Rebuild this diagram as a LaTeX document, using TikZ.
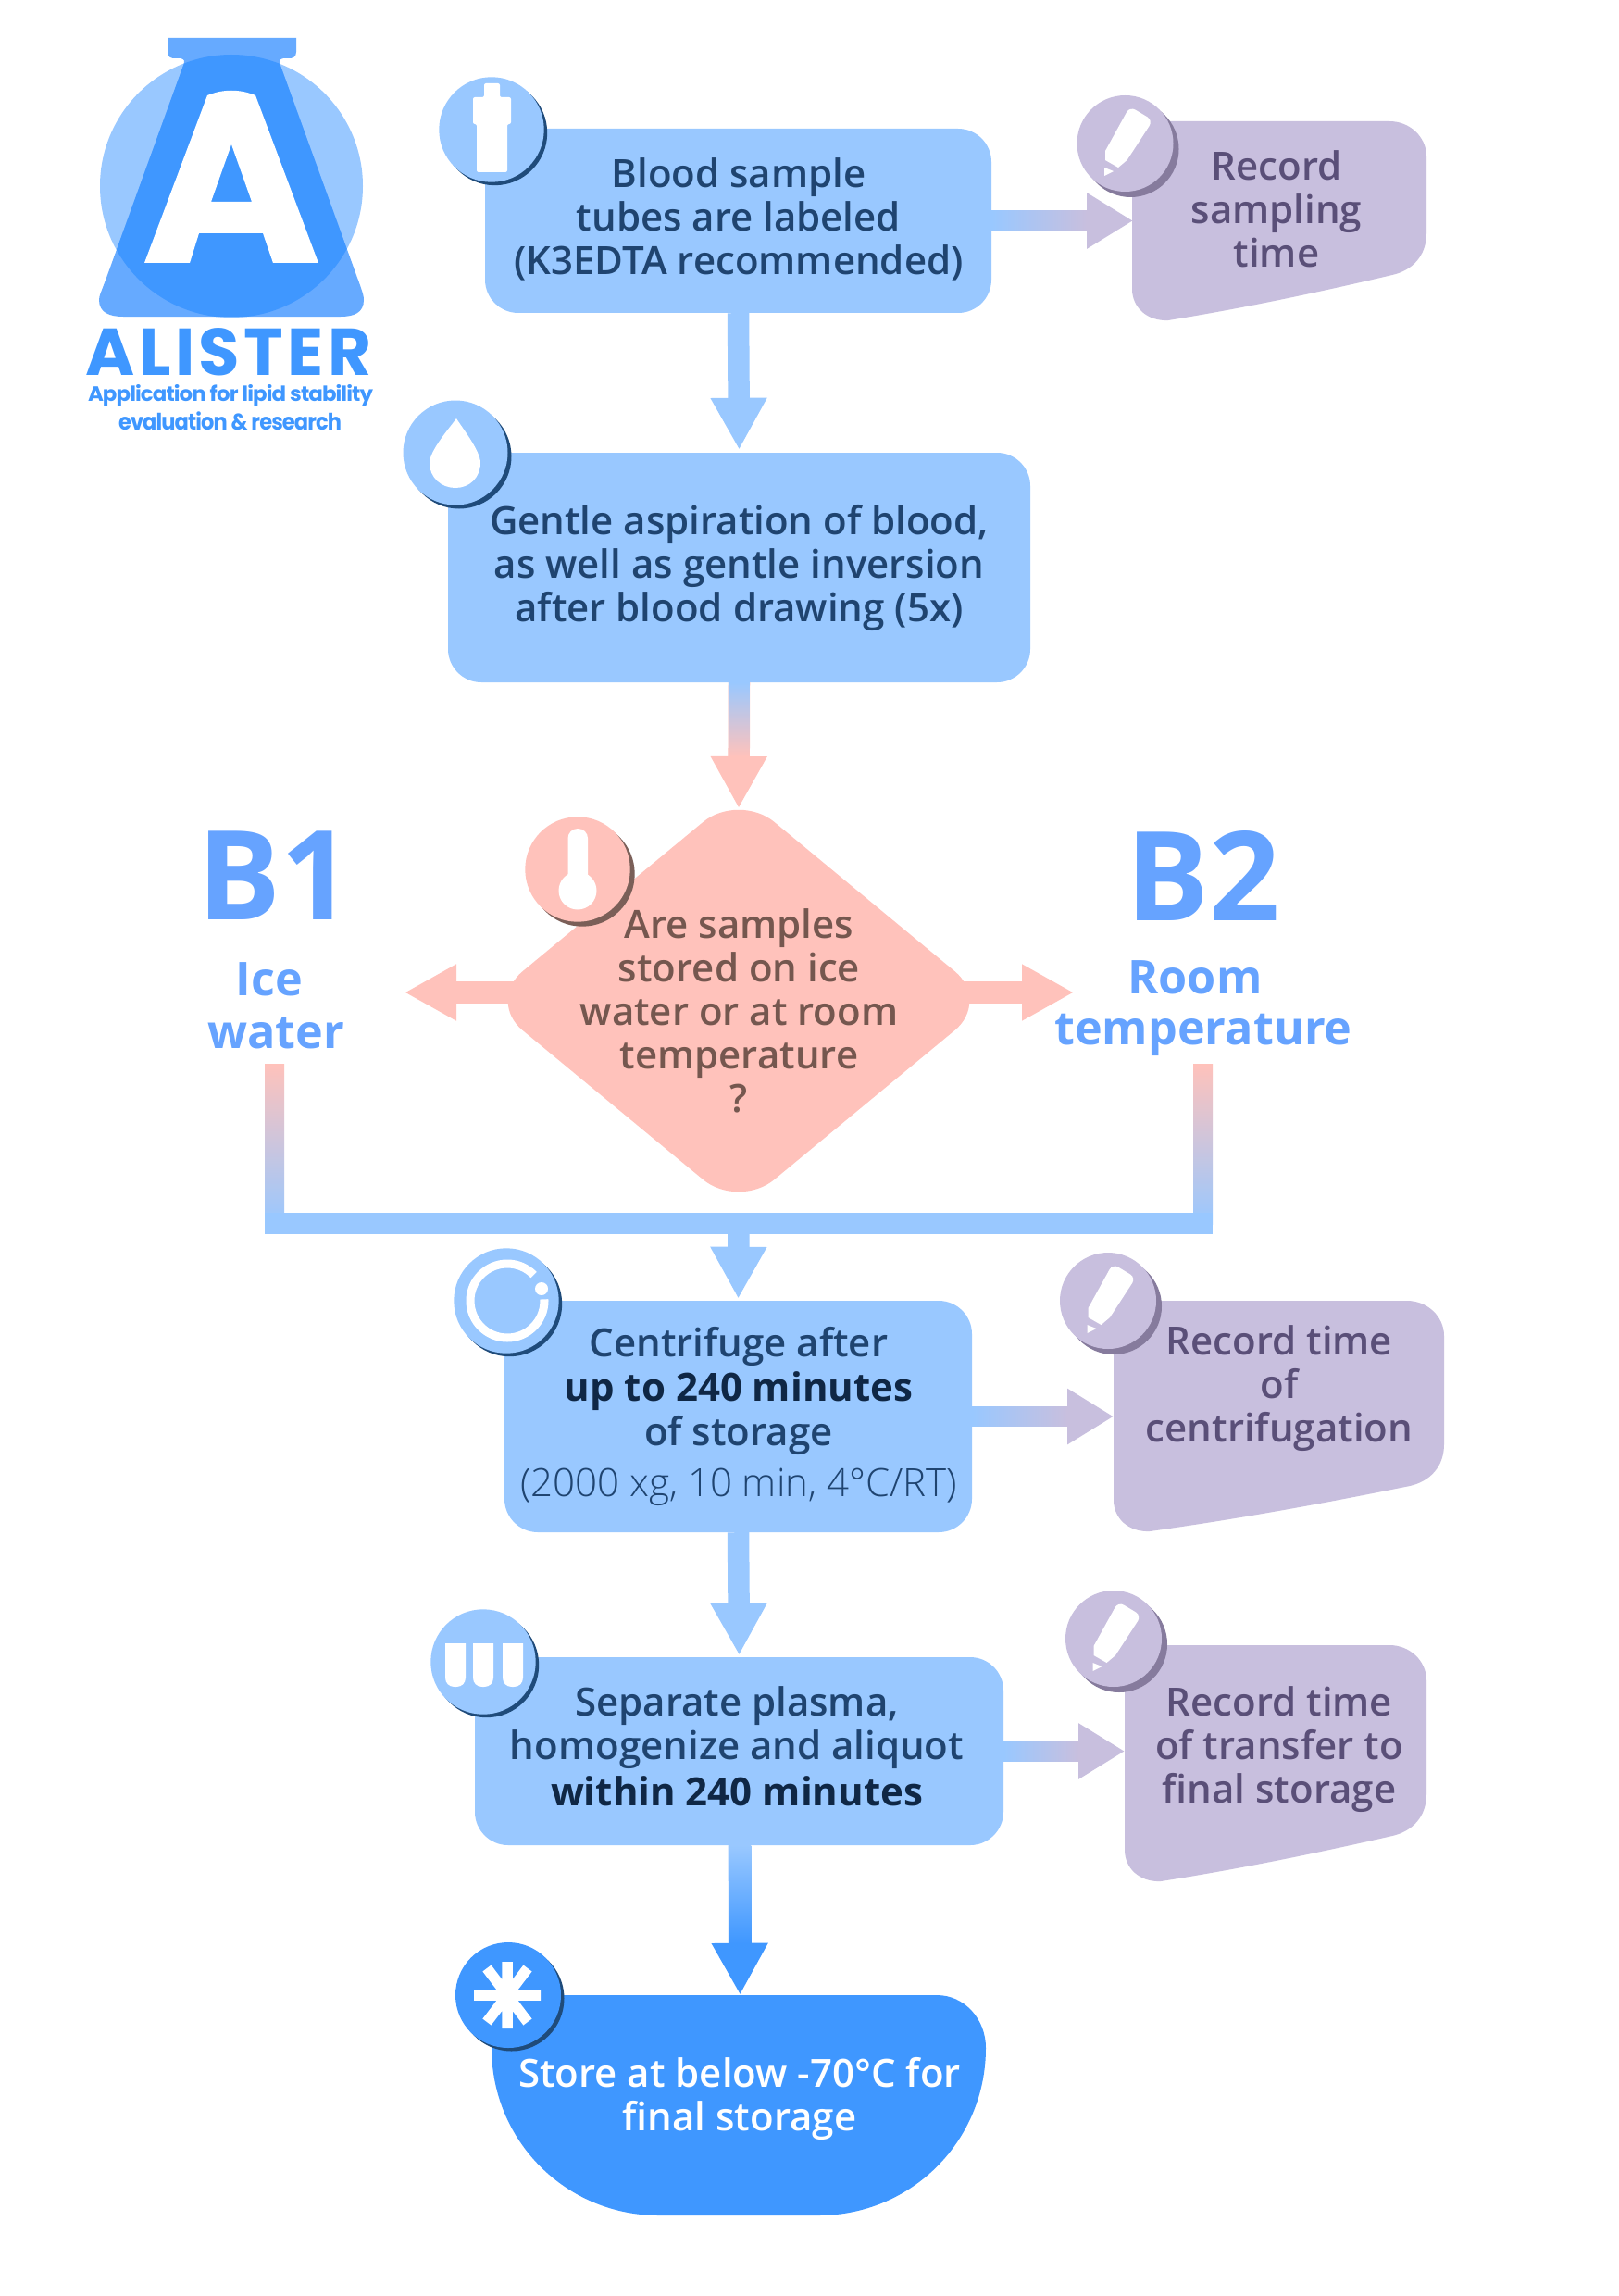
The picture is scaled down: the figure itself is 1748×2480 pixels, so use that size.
\documentclass[tikz,border=0pt]{standalone}
\usepackage{fontspec}
\usepackage{graphicx}
\setmainfont{Open Sans}
\newfontfamily\bodyfont{Open Sans Semibold}
\newfontfamily\lightfont{Open Sans Light}
\newfontfamily\strongfont{Open Sans}
\newfontfamily\logofont{Poppins}
\usetikzlibrary{arrows.meta,calc,shapes.geometric}
\definecolor{lblue}{HTML}{99C8FF}
\definecolor{dblue}{HTML}{3F97FF}
\definecolor{mblue}{HTML}{66AAFF}
\definecolor{tblue}{HTML}{66A3FF}
\definecolor{purp}{HTML}{C8BFDE}
\definecolor{purpsh}{HTML}{867B9D}
\definecolor{pink}{HTML}{FFC2BB}
\definecolor{pinksh}{HTML}{7B5F58}
\definecolor{bluesh}{HTML}{1F4B7A}
\definecolor{txtblue}{HTML}{1F4470}
\definecolor{txtbold}{HTML}{0F2745}
\definecolor{txtpurp}{HTML}{5A4F78}
\definecolor{txtpink}{HTML}{75574F}
\tikzset{
  x=1pt,y=-1pt,
  flowbox/.style={rectangle,fill=lblue,rounded corners=36pt,inner sep=0pt},
  bodytext/.style={align=center,inner sep=0pt,font=\bodyfont\fontsize{42}{47}\selectfont},
  boxtext/.style={bodytext,text=txtblue},
  rectext/.style={bodytext,text=txtpurp},
  diatext/.style={bodytext,text=txtpink},
  headtext/.style={align=center,inner sep=0pt,text=tblue,font=\bfseries\fontsize{50.3}{52}\selectfont},
  bigtext/.style={inner sep=0pt,text=tblue,font=\bfseries\fontsize{134}{136}\selectfont},
  conn/.style={line width=23.5pt,-{Triangle[length=56pt,width=57pt]}},
  hconn/.style={line width=21pt,-{Triangle[length=50pt,width=57pt]}},
  whitebit/.style={fill=white,draw=none},
}
\newcommand\iconbase[6]{%
  \fill[#5] (#1+#6,#2+#6) circle (#3);
  \fill[#4] (#1,#2) circle (#3);
}
\newcommand\pencilicon[2]{%
  \begin{scope}[shift={(#1,#2)}]
    \fill[purpsh] (6,6) circle (52);
    \fill[purp] (0,0) circle (52);
    \path[whitebit] (-21.5,18) -- (-21.5,8) [rounded corners=7pt] -- (5,-40) -- (30,-25) [sharp corners] -- (2,18) -- (-7.5,26) -- cycle;
    \path[whitebit] (-22.5,26) -- (-22.5,35) -- (-12.5,30) -- cycle;
  \end{scope}%
}
\newcommand\recshape[4]{%
  \fill[purp] ({#1+40},#2) -- ({#3-40},#2) .. controls ({#3-18},#2) and (#3,{#2+17}) .. (#3,{#2+38})
   -- (#3,{#4-94}) .. controls (#3,{#4-70}) and ({#3-15},{#4-54}) .. ({#3-37},{#4-49})
   .. controls ({#3-37-(#3-#1-76)/3},{#4-30}) and ({#1+39+(#3-#1-76)/3},{#4-13}) .. ({#1+39},#4)
   .. controls ({#1+16},{#4+1}) and (#1,{#4-14}) .. (#1,{#4-34})
   -- (#1,{#2+40}) .. controls (#1,{#2+17}) and ({#1+18},#2) .. ({#1+40},#2) -- cycle;
}
\newcommand\vgrad[4]{%
  \draw[conn,draw=#4,fill=#4] (#1) -- (#2);
  \shade[top color=#3,bottom color=#4] ($(#1)+(-11.75,0)$) rectangle ($(#2)+(11.75,-56)$);
}
\newcommand\hgrad[4]{%
  \draw[hconn,draw=#4,fill=#4] (#1) -- (#2);
  \shade[left color=#3,right color=#4] ($(#1)+(0,-10.5)$) rectangle ($(#2)+(-50,10.5)$);
}
\begin{document}
\begin{tikzpicture}
\useasboundingbox (0,0) rectangle (1748,2480);
\fill[white] (0,0) rectangle (1748,2480);

% logo
\def\flaskpath{(181,41) -- (320,41) -- (320,56) .. controls (320,62) and (316,63) .. (312,63) -- (306,63) .. controls (302,64) and (301,66) .. (302,68) -- (386,300) .. controls (392,316) and (393,320) .. (393,324) .. controls (393,338) and (382,342) .. (368,342) -- (133,342) .. controls (119,342) and (107,338) .. (107,324) .. controls (107,320) and (109,316) .. (115,300) -- (199,68) .. controls (200,66) and (199,64) .. (195,63) -- (189,63) .. controls (185,63) and (181,62) .. (181,56) -- cycle}
\fill[lblue] (250,201) circle (142);
\fill[mblue] \flaskpath;
\begin{scope}
  \clip (250,201) circle (142);
  \fill[dblue] \flaskpath;
\end{scope}
\fill[white,even odd rule] (156,284) -- (224,103) .. controls (241,96) and (259,96) .. (276,103) -- (344,284) -- (295,284) -- (284,252) -- (215,252) -- (205,284) -- cycle
  (250,156) -- (272,218) -- (228,218) -- cycle;
\node[inner sep=0pt,text=dblue,anchor=south] (logoname) at (247,406.5) {\resizebox{308pt}{51pt}{\logofont\bfseries\addfontfeature{LetterSpace=6}ALISTER}};
\node[inner sep=0pt,text=dblue,anchor=center] (logosub) at (249,427.5) {\resizebox*{308pt}{24pt}{\logofont\bfseries\addfontfeature{LetterSpace=-4}\fontsize{30}{32}\selectfont Application for lipid stability}};
\node[inner sep=0pt,text=dblue,anchor=center] (logosubb) at (248.5,455) {\resizebox*{241pt}{20pt}{\logofont\bfseries\addfontfeature{LetterSpace=-4}\fontsize{30}{32}\selectfont evaluation \& research}};

% boxes
\node[flowbox,minimum width=547pt,minimum height=199pt] (box1) at (797.5,238.5) {};
\node[flowbox,minimum width=629pt,minimum height=248pt] (box2) at (798.5,613) {};
\node[diamond,fill=pink,inner sep=0pt,minimum width=544pt,minimum height=450pt,rounded corners=50pt,aspect=1.2] (dia) at (798,1081) {};
\node[flowbox,minimum width=505pt,minimum height=250pt] (box3) at (797.5,1530) {};
\node[flowbox,minimum width=571pt,minimum height=203pt] (box4) at (798.5,1891.5) {};
\fill[dblue] (585,2155) -- (1012,2155) .. controls (1042,2155) and (1065,2181) .. (1065,2212) .. controls (1065,2312) and (985,2393) .. (884,2393) -- (712,2393) .. controls (611,2393) and (531,2312) .. (531,2212) .. controls (531,2181) and (555,2155) .. (585,2155) -- cycle;
\node[inner sep=0pt,minimum size=0pt] (box5) at (799.5,2155) {};
\recshape{1223}{131}{1541}{346}
\recshape{1203}{1405}{1560}{1654}
\recshape{1215}{1777}{1541}{2032}

% free connector ends
\coordinate (rec1w) at (1224,238.5);
\coordinate (rec2w) at (1203,1530);
\coordinate (rec3w) at (1215,1891.5);
\coordinate (diatop) at (798,873);
\coordinate (tipb1) at (437,1072);
\coordinate (tipb2) at (1160,1072);
\coordinate (barl) at (286,1321.5);
\coordinate (barr) at (1310,1321.5);
\coordinate (barm) at (798,1321.5);

% connectors
\draw[conn,draw=lblue,fill=lblue,shorten >=3pt] (box1.south) -- (box2.north);
\vgrad{box2.south}{diatop}{lblue}{pink}
\draw[conn,draw=pink,fill=pink] (dia.center |- tipb1) -- (tipb1);
\draw[conn,draw=pink,fill=pink] (dia.center |- tipb2) -- (tipb2);
\shade[top color=pink,bottom color=lblue] (286,1149) rectangle (307,1322);
\shade[top color=pink,bottom color=lblue] (1289,1149) rectangle (1310,1322);
\draw[line width=23pt,draw=lblue] (barl) -- (barr);
\draw[conn,draw=lblue,fill=lblue,shorten >=2pt] (barm) -- (box3.north);
\draw[conn,draw=lblue,fill=lblue,shorten >=2pt] (box3.south) -- (box4.north);
\vgrad{box4.south}{box5}{lblue}{dblue}
\hgrad{box1.east}{rec1w}{lblue}{purp}
\hgrad{box3.east}{rec2w}{lblue}{purp}
\hgrad{box4.east}{rec3w}{lblue}{purp}

% icons
\iconbase{531}{140}{56.7}{lblue}{bluesh}{3.5}
\path[whitebit,rounded corners=2pt] (523,90) -- (540,90) -- (540,105) -- (552,105) -- (552,134) -- (548,134) -- (548,186) -- (515,186) -- (515,134) -- (511,134) -- (511,105) -- (523,105) -- cycle;

\iconbase{492}{489}{56.5}{lblue}{bluesh}{4}
\path[whitebit] (493,452) .. controls (500,463) and (519,487) .. (519,500) .. controls (519,516) and (507,527) .. (492,527) .. controls (477,527) and (464,516) .. (464,500) .. controls (464,487) and (485,463) .. (493,452) -- cycle;

\iconbase{624}{939}{56.7}{pink}{pinksh}{5}
\fill[white,rounded corners=10.5pt] (613.5,895) rectangle (635,960);
\fill[white] (624,962) circle (20.5);

\iconbase{547}{1405}{56.7}{lblue}{bluesh}{3.5}
\draw[white,line width=9pt] (548,1405) circle (40);
\fill[lblue] (548,1405) -- (596,1403) -- (593,1380) -- (583,1371) -- cycle;
\fill[white] (585,1392) circle (7);

\iconbase{522}{1795}{56.7}{lblue}{bluesh}{3.5}
\foreach \tx in {481,511,543}{
  \path[whitebit] (\tx,1775) -- ({\tx+22},1775) -- ({\tx+22},1812) .. controls ({\tx+22},1818) and ({\tx+18},1822) .. ({\tx+12},1822) -- ({\tx+10},1822) .. controls ({\tx+4},1822) and (\tx,1818) .. (\tx,1812) -- cycle;
}

\iconbase{549}{2155}{57}{dblue}{bluesh}{3.5}
\draw[white,line width=11.5pt] (548,2119) -- (548,2191) (512,2155) -- (584,2155) (526,2126) -- (570,2184) (570,2126) -- (526,2184);

\pencilicon{1215.5}{155}
\pencilicon{1197}{1405}
\pencilicon{1203}{1770}

% text
\node[boxtext] (t1) at (798,237) {Blood sample\\tubes are labeled\\(K3EDTA recommended)};
\node[boxtext] (t2) at (798.5,613) {Gentle aspiration of blood,\\as well as gentle inversion\\after blood drawing (5x)};
\node[diatext] (t3) at (798.5,1092) {Are samples\\stored on ice\\water or at room\\temperature\\?};
\node[boxtext] (t4) at (798,1529.5) {Centrifuge after\\[1pt]{\strongfont\bfseries\color{txtbold}up to 240 minutes}\\[1pt]of storage\\[8pt]{\lightfont (2000 xg, 10 min, 4°C/RT)}};
\node[boxtext] (t5) at (796,1886) {Separate plasma,\\homogenize and aliquot\\[3pt]{\strongfont\bfseries\color{txtbold}within 240 minutes}};
\node[bodytext,text=white] (t6) at (799,2267) {Store at below -70°C for\\final storage};
\node[rectext] (r1) at (1379,226) {Record\\sampling\\time};
\node[rectext] (r2) at (1382,1499.5) {Record time\\of\\centrifugation};
\node[rectext] (r3) at (1382,1889.5) {Record time\\of transfer to\\final storage};
\node[bigtext] (b1) at (297,946) {B1};
\node[bigtext] (b2) at (1300,946) {B2};
\node[headtext] (ice) at (291,1058) {Ice};
\node[headtext] (water) at (298,1116) {water};
\node[headtext] (room) at (1291,1056) {Room};
\node[headtext] (temp) at (1300,1118) {temperature};
\end{tikzpicture}
\end{document}
